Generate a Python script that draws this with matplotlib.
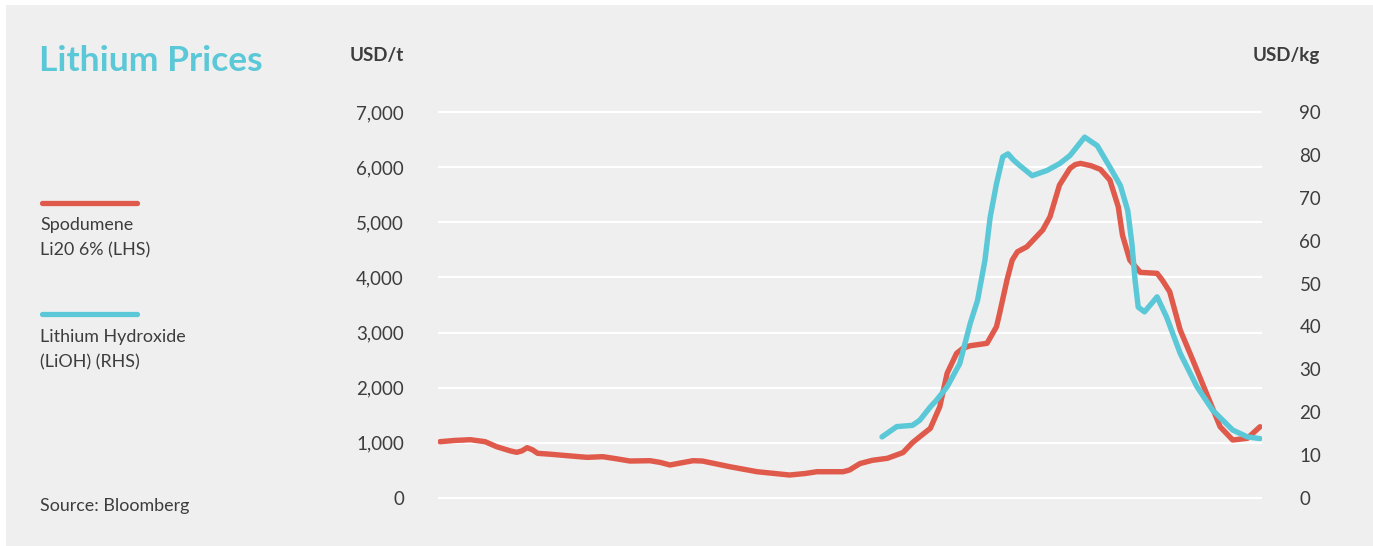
#!/usr/bin/env python3
"""Lithium prices chart: spodumene (LHS, USD/t) vs lithium hydroxide (RHS, USD/kg)."""
import matplotlib
matplotlib.use("Agg")
import matplotlib.pyplot as plt
from matplotlib.lines import Line2D

# ---------------------------------------------------------------------------
# Data (x = months from start of series)
# ---------------------------------------------------------------------------
SPOD_T = [0.0, 1.4, 2.9, 4.3, 5.4, 6.7, 7.3, 7.8, 8.3, 8.8, 9.3, 10.5, 11.7,
          14.0, 15.5, 16.7, 18.1, 20.0, 21.0, 21.9, 22.9, 24.1, 25.0, 27.6,
          30.2, 33.3, 34.8, 35.9, 38.4, 39.0, 40.0, 41.2, 42.6, 44.1, 45.0,
          45.7, 46.7, 47.6, 48.3, 49.2, 49.8, 50.5, 52.1, 53.0, 53.3, 54.0,
          54.5, 55.0, 55.9, 57.4, 58.1, 59.0, 60.0, 60.5, 61.0, 62.0, 62.9,
          63.8, 64.6, 65.0, 65.7, 66.7, 68.3, 68.8, 69.5, 70.5, 71.7, 73.0,
          74.3, 75.5, 76.9, 78.1]
SPOD_USD_T = [1017, 1040, 1053, 1017, 926, 850, 824, 850, 908, 870, 806, 790,
              770, 733, 745, 710, 666, 672, 640, 594, 630, 672, 666, 563, 472,
              412, 440, 472, 472, 503, 620, 680, 715, 820, 1000, 1108, 1260,
              1652, 2259, 2622, 2713, 2760, 2804, 3105, 3348, 3953, 4316, 4467,
              4558, 4861, 5103, 5678, 5981, 6050, 6072, 6030, 5963, 5769, 5284,
              4770, 4316, 4093, 4075, 3950, 3741, 3045, 2500, 1896, 1289, 1048,
              1079, 1289]

LIOH_T = [42.1, 43.5, 45.0, 45.7, 46.7, 47.3, 48.3, 49.5, 50.5, 51.2, 51.9,
          52.4, 53.0, 53.6, 54.1, 54.6, 55.2, 56.4, 57.8, 59.0, 60.0, 61.4,
          62.6, 63.8, 64.8, 65.5, 65.9, 66.2, 66.5, 67.1, 68.3, 69.2, 70.5,
          72.1, 73.6, 75.5, 76.9, 78.1]
LIOH_USD_KG = [14.2, 16.6, 16.9, 18.1, 21.2, 22.8, 25.9, 31.3, 40.7, 46.1,
               55.4, 65.5, 73.3, 79.6, 80.3, 78.9, 77.6, 75.2, 76.4, 78.0,
               79.9, 84.2, 82.2, 77.2, 72.9, 67.1, 59.3, 50.8, 44.5, 43.4,
               46.9, 42.2, 33.7, 25.9, 20.4, 15.8, 14.2, 13.8]

LHS_TICKS = [0, 1000, 2000, 3000, 4000, 5000, 6000, 7000]
RHS_TICKS = [0, 10, 20, 30, 40, 50, 60, 70, 80, 90]

# ---------------------------------------------------------------------------
# Style
# ---------------------------------------------------------------------------
C_RED = "#e05a4c"
C_CYAN = "#5bc8d7"
C_BG = "#efefef"
C_TEXT = "#3d3d3d"
W, H = 1373, 546

plt.rcParams.update({
    "font.family": ["Lato", "DejaVu Sans"],
    "font.size": 13,
})


def fx(px):
    return px / W


def fy(py):
    return 1 - py / H


fig = plt.figure(figsize=(W / 100, H / 100), dpi=100, facecolor="white")
# grey panel with a thin white margin top/left, kept behind the axes
fig.patches.append(plt.Rectangle((fx(6), 0), 1 - fx(6), fy(5), transform=fig.transFigure,
                                 facecolor=C_BG, edgecolor="none", zorder=-10))

# y limits chosen so 0 sits at px 497.7 and 7000 at px 112.3
YLO, YHI = -500, 7300
ax_bot, ax_top = 497.7 + 500 * 0.05506, 112.3 - 300 * 0.05506
ax = fig.add_axes([fx(438), fy(ax_bot), fx(1262) - fx(438), fy(ax_top) - fy(ax_bot)])
ax.set_facecolor("none")
ax.set_xlim(-0.19, 78.29)
ax.set_ylim(YLO, YHI)
ax.set_yticks(LHS_TICKS, [f"{v:,}" for v in LHS_TICKS])
ax.set_xticks([])
ax.grid(axis="y", color="white", linewidth=1.6)
ax.tick_params(axis="y", length=0, pad=24.5, labelsize=13.5, labelcolor=C_TEXT)
for s in ax.spines.values():
    s.set_visible(False)

ax2 = ax.twinx()
ax2.set_facecolor("none")
ax2.set_ylim(YLO * 90 / 7000, YHI * 90 / 7000)
ax2.set_yticks(RHS_TICKS)
ax2.tick_params(axis="y", length=0, pad=27, labelsize=13.5, labelcolor=C_TEXT)
for s in ax2.spines.values():
    s.set_visible(False)

ax.plot(SPOD_T, SPOD_USD_T, color=C_RED, linewidth=3.9,
        solid_joinstyle="round", solid_capstyle="round", zorder=3)
ax2.plot(LIOH_T, LIOH_USD_KG, color=C_CYAN, linewidth=3.9,
         solid_joinstyle="round", solid_capstyle="round", zorder=3)

# ---------------------------------------------------------------------------
# Text + hand-made legend
# ---------------------------------------------------------------------------
fig.text(fx(39), fy(71), "Lithium Prices", color=C_CYAN, fontsize=25.5,
         fontweight="bold", va="baseline", ha="left")
fig.text(fx(404), fy(61.5), "USD/t", color=C_TEXT, fontsize=13.5,
         fontweight="bold", va="baseline", ha="right")
fig.text(fx(1253), fy(61.5), "USD/kg", color=C_TEXT, fontsize=13.5,
         fontweight="bold", va="baseline", ha="left")

for y, c in [(202.7, C_RED), (314.3, C_CYAN)]:
    fig.add_artist(Line2D([fx(42), fx(137)], [fy(y), fy(y)], color=c, linewidth=3.8,
                          solid_capstyle="round", transform=fig.transFigure))

fig.text(fx(40), fy(230), "Spodumene", color=C_TEXT, fontsize=12.9, va="baseline")
fig.text(fx(40), fy(255), "Li20 6% (LHS)", color=C_TEXT, fontsize=12.9, va="baseline")
fig.text(fx(40), fy(342), "Lithium Hydroxide", color=C_TEXT, fontsize=12.9, va="baseline")
fig.text(fx(40), fy(367), "(LiOH) (RHS)", color=C_TEXT, fontsize=12.9, va="baseline")
fig.text(fx(40), fy(511), "Source: Bloomberg", color=C_TEXT, fontsize=12.9, va="baseline")

fig.savefig("out.png", dpi=100, facecolor=fig.get_facecolor())
